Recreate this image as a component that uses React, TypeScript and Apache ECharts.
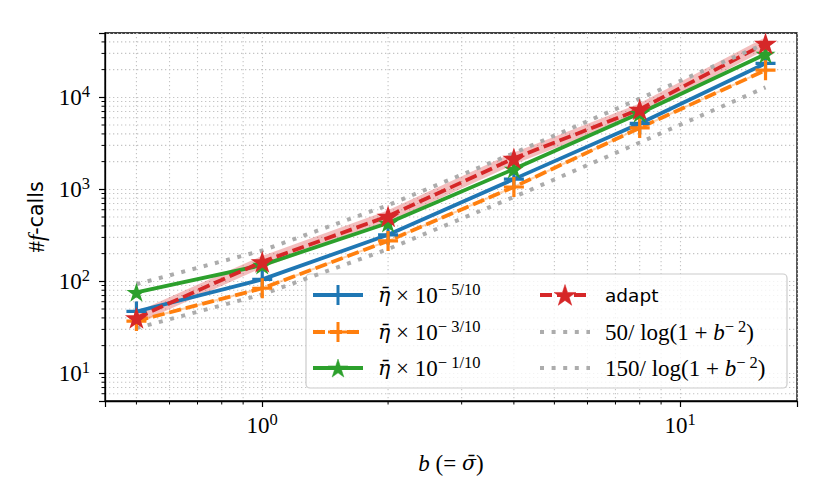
import React, { useEffect, useRef } from "react";
import * as echarts from "echarts";

// ---- data ----
const B_VALUES = [0.5, 1, 2, 4, 8, 16];
const ETA_M5 = [47, 105, 320, 1290, 5200, 23400];
const ETA_M3 = [37, 84, 275, 1060, 4650, 19700];
const ETA_M1 = [76, 150, 430, 1660, 6700, 29500];
const ADAPT = [40, 163, 510, 2170, 7400, 38500];
const REF_50 = [31, 72, 224, 825, 3225, 12825];
const REF_150 = [93, 216, 672, 2474, 9675, 38474];

const X_MAJOR_EXP = [0, 1];
const Y_MAJOR_EXP = [1, 2, 3, 4];
const X_MINOR = [0.5, 0.6, 0.7, 0.8, 0.9, 2, 3, 4, 5, 6, 7, 8, 9];
const Y_MINOR = [
  6, 7, 8, 9, 20, 30, 40, 50, 60, 70, 80, 90, 200, 300, 400, 500, 600, 700, 800, 900,
  2000, 3000, 4000, 5000, 6000, 7000, 8000, 9000, 20000, 30000, 40000,
];
const X_RANGE = [0.4205, 19.03];
const Y_RANGE = [5, 50000];

const SP = "\u2005";
const LEGEND_LABELS = [
  `{g|η̄}{m|${SP}×${SP}10}{s|−${SP}5/10}`,
  `{g|η̄}{m|${SP}×${SP}10}{s|−${SP}3/10}`,
  `{g|η̄}{m|${SP}×${SP}10}{s|−${SP}1/10}`,
  "{t|adapt}",
  `{m|50/${SP}log(1${SP}+${SP}}{i|b}{s|−${SP}2}{m|)}`,
  `{m|150/${SP}log(1${SP}+${SP}}{i|b}{s|−${SP}2}{m|)}`,
];
const X_NAME = `{i|b}{m| (=${SP}}{g|σ̄}{m|)}`;
const Y_NAME = "{m|#}{i|f}{c|-calls}";

const BLUE = "#1f77b4";
const ORANGE = "#ff7f0e";
const GREEN = "#2ca02c";
const RED = "#d62728";
const GRAY = "#acacac";
const GRID = "#c4c4c4";
const SERIF = "Liberation Serif";
const SANS = "DejaVu Sans";

const STAR =
  "path://M0,-100 L22.45,-30.9 L95.11,-30.9 L36.33,11.8 L58.78,80.9 L0,38.2 L-58.78,80.9 L-36.33,11.8 L-95.11,-30.9 L-22.45,-30.9 Z";
const PLUS =
  "path://M-1.6,-10 L1.6,-10 L1.6,-1.6 L10,-1.6 L10,1.6 L1.6,1.6 L1.6,10 L-1.6,10 L-1.6,1.6 L-10,1.6 L-10,-1.6 L-1.6,-1.6 Z";

const DASH = [12, 5];
const DOT = [4, 7.6];
const GRID_DASH = [1.3, 2.7];
const LW = 3.8;

const pairs = (ys: number[]) => B_VALUES.map((x, i) => [x, ys[i]]);

const richMath = {
  m: { fontFamily: SERIF, fontSize: 23, lineHeight: 28, color: "#000" },
  i: { fontFamily: SERIF, fontSize: 23, lineHeight: 28, fontStyle: "italic", color: "#000" },
  g: { fontFamily: "DejaVu Serif", fontSize: 20.5, lineHeight: 28, fontStyle: "italic", color: "#000" },
  s: { fontFamily: SERIF, fontSize: 16.5, lineHeight: 16, verticalAlign: "top", color: "#000" },
  t: { fontFamily: SANS, fontSize: 18.5, lineHeight: 28, color: "#000" },
  c: { fontFamily: SANS, fontSize: 20.5, lineHeight: 28, color: "#000" },
};

const powLabel = (exps: number[]) => (v: number) => {
  const e = Math.round(Math.log10(v));
  if (!exps.includes(e) || Math.abs(v / Math.pow(10, e) - 1) > 1e-6) return "";
  return `{m|10}{s|${e}}`;
};

function starPoints(cx: number, cy: number, r: number) {
  const pts: number[][] = [];
  for (let k = 0; k < 10; k++) {
    const a = -Math.PI / 2 + (k * Math.PI) / 5;
    const rr = k % 2 === 0 ? r : r * 0.382;
    pts.push([cx + rr * Math.cos(a), cy + rr * Math.sin(a)]);
  }
  return pts;
}

export default function App() {
  const ref = useRef<HTMLDivElement>(null);

  useEffect(() => {
    document.body.style.margin = "0";
    if (!ref.current) return;
    const chart = echarts.init(ref.current, null, { renderer: "svg" });

    const lineSeries = (
      name: string,
      ys: number[],
      color: string,
      type: any,
      symbol: string,
      symbolSize: number,
      width = LW,
      z = 3
    ) => ({
      type: "line",
      name,
      data: pairs(ys),
      symbol,
      symbolSize,
      symbolKeepAspect: true,
      showSymbol: symbol !== "none",
      lineStyle: { color, width, type, cap: "butt" },
      itemStyle: { color },
      z,
      silent: true,
    });

    chart.setOption({
      animation: false,
      grid: {
        left: 105,
        right: 33,
        top: 33,
        bottom: 97,
        show: true,
        borderColor: "#000",
        borderWidth: 1.3,
      },
      xAxis: {
        type: "log",
        logBase: 10,
        min: X_RANGE[0],
        max: X_RANGE[1],
        axisLine: { show: true, lineStyle: { color: "#000", width: 1.3 } },
        axisTick: { show: true, length: 6, lineStyle: { color: "#000", width: 1.2 } },
        splitLine: { show: true, lineStyle: { color: GRID, width: 1.1, type: GRID_DASH } },
        axisLabel: { margin: 10, formatter: powLabel(X_MAJOR_EXP), rich: richMath },
        name: X_NAME,
        nameLocation: "middle",
        nameGap: 48,
        nameTextStyle: { rich: richMath },
      },
      yAxis: {
        type: "log",
        logBase: 10,
        min: Y_RANGE[0],
        max: Y_RANGE[1],
        axisLine: { show: true, lineStyle: { color: "#000", width: 1.3 } },
        axisTick: { show: true, length: 6, lineStyle: { color: "#000", width: 1.2 } },
        splitLine: { show: true, lineStyle: { color: GRID, width: 1.1, type: GRID_DASH } },
        axisLabel: { margin: 15, formatter: powLabel(Y_MAJOR_EXP), rich: richMath },
        name: Y_NAME,
        nameLocation: "middle",
        nameGap: 54,
        nameTextStyle: { rich: richMath },
      },
      series: [
        lineSeries("adapt band", ADAPT, "rgba(214,39,40,0.3)", "solid", "none", 0, 11, 2),
        lineSeries("eta -3/10 band", ETA_M3, "rgba(255,127,14,0.35)", "solid", "none", 0, 2, 2),
        lineSeries("η̄ × 10^−5/10", ETA_M5, BLUE, "solid", PLUS, 20),
        lineSeries("η̄ × 10^−3/10", ETA_M3, ORANGE, DASH, PLUS, 20),
        lineSeries("η̄ × 10^−1/10", ETA_M1, GREEN, "solid", STAR, 20),
        lineSeries("adapt", ADAPT, RED, DASH, STAR, 23),
        lineSeries("50/log(1+b^-2)", REF_50, GRAY, DOT, "none", 0, 4),
        lineSeries("150/log(1+b^-2)", REF_150, GRAY, DOT, "none", 0, 4),
      ],
    });

    // minor grid lines and minor ticks, positioned via the axes' own scales
    const px = (v: number) => chart.convertToPixel({ xAxisIndex: 0 }, v) as number;
    const py = (v: number) => chart.convertToPixel({ yAxisIndex: 0 }, v) as number;
    const left = px(X_RANGE[0]);
    const right = px(X_RANGE[1]);
    const bottom = py(Y_RANGE[0]);
    const top = py(Y_RANGE[1]);

    const els: any[] = [];
    const gridStyle = { stroke: GRID, lineWidth: 1.1, lineDash: GRID_DASH };
    const tickStyle = { stroke: "#000", lineWidth: 1 };
    X_MINOR.forEach((v) => {
      const x = px(v);
      els.push({ type: "line", z: 0, silent: true, shape: { x1: x, y1: top, x2: x, y2: bottom }, style: gridStyle });
      els.push({ type: "line", z: 0, silent: true, shape: { x1: x, y1: bottom, x2: x, y2: bottom + 3.5 }, style: tickStyle });
    });
    Y_MINOR.forEach((v) => {
      const y = py(v);
      els.push({ type: "line", z: 0, silent: true, shape: { x1: left, y1: y, x2: right, y2: y }, style: gridStyle });
      els.push({ type: "line", z: 0, silent: true, shape: { x1: left - 3.5, y1: y, x2: left, y2: y }, style: tickStyle });
    });

    // legend
    const lg: any[] = [];
    lg.push({
      type: "rect",
      shape: { x: 306, y: 274, width: 481, height: 114, r: 4 },
      style: { fill: "rgba(255,255,255,0.8)", stroke: "#cccccc", lineWidth: 1.2 },
    });
    const entries = [
      { color: BLUE, dash: null, marker: "plus", size: 20, width: LW },
      { color: ORANGE, dash: DASH, marker: "plus", size: 20, width: LW },
      { color: GREEN, dash: null, marker: "star", size: 20, width: LW },
      { color: RED, dash: DASH, marker: "star", size: 23, width: LW },
      { color: GRAY, dash: DOT, marker: "none", size: 0, width: 4 },
      { color: GRAY, dash: DOT, marker: "none", size: 0, width: 4 },
    ];
    const rowsY = [295, 332, 368];
    const colX = [313, 540];
    entries.forEach((en, k) => {
      const col = Math.floor(k / 3);
      const row = k % 3;
      const x0 = colX[col];
      const x1 = x0 + 50;
      const cy = rowsY[row];
      const cx = (x0 + x1) / 2;
      lg.push({
        type: "line",
        shape: { x1: x0, y1: cy, x2: x1, y2: cy },
        style: { stroke: en.color, lineWidth: en.width, lineDash: en.dash || undefined, lineCap: "butt" },
      });
      if (en.marker === "plus") {
        const h = en.size / 2;
        lg.push({ type: "line", shape: { x1: cx - h, y1: cy, x2: cx + h, y2: cy }, style: { stroke: en.color, lineWidth: 3 } });
        lg.push({ type: "line", shape: { x1: cx, y1: cy - h, x2: cx, y2: cy + h }, style: { stroke: en.color, lineWidth: 3 } });
      } else if (en.marker === "star") {
        lg.push({
          type: "polygon",
          shape: { points: starPoints(cx, cy + 1, en.size / 2) },
          style: { fill: en.color, stroke: en.color, lineWidth: 0.5 },
        });
      }
      lg.push({
        type: "text",
        x: x1 + 15,
        y: cy,
        style: {
          text: LEGEND_LABELS[k],
          rich: richMath,
          verticalAlign: "middle",
          align: "left",
        },
      });
    });

    chart.setOption({
      graphic: [
        { type: "group", z: 0, silent: true, children: els },
        { type: "group", z: 100, silent: true, children: lg },
      ],
    });

    return () => chart.dispose();
  }, []);

  return <div ref={ref} style={{ width: 830, height: 498 }} />;
}
